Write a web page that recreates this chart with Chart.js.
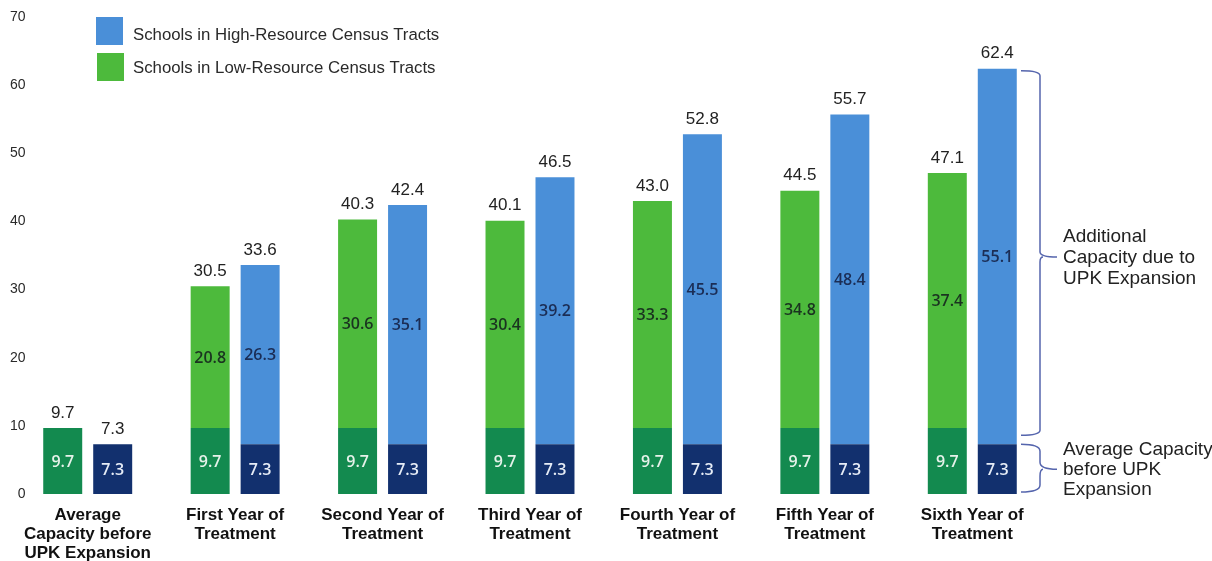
<!DOCTYPE html>
<html>
<head>
<meta charset="utf-8">
<script src="https://cdn.jsdelivr.net/npm/chart.js@4/dist/chart.umd.min.js"></script>
<style>
  html, body { margin: 0; padding: 0; background: #ffffff; }
  #wrap { width: 1212px; height: 561px; position: relative; }
</style>
</head>
<body>
<div id="wrap"><canvas id="c" width="1212" height="561"></canvas></div>
<script>
const categories = [
  ['Average', 'Capacity before', 'UPK Expansion'],
  ['First Year of', 'Treatment'],
  ['Second Year of', 'Treatment'],
  ['Third Year of', 'Treatment'],
  ['Fourth Year of', 'Treatment'],
  ['Fifth Year of', 'Treatment'],
  ['Sixth Year of', 'Treatment']
];
const lowBase  = [9.7, 9.7, 9.7, 9.7, 9.7, 9.7, 9.7];
const lowAdded = [null, 20.8, 30.6, 30.4, 33.3, 34.8, 37.4];
const highBase  = [7.3, 7.3, 7.3, 7.3, 7.3, 7.3, 7.3];
const highAdded = [null, 26.3, 35.1, 39.2, 45.5, 48.4, 55.1];
const yTicks = [0, 10, 20, 30, 40, 50, 60, 70];
const legendLabels = ['Schools in High-Resource Census Tracts', 'Schools in Low-Resource Census Tracts'];
const bracketTop = ['Additional', 'Capacity due to', 'UPK Expansion'];
const bracketBottom = ['Average Capacity', 'before UPK', 'Expansion'];

const C = {
  darkGreen: '#138a4f',
  lightGreen: '#4dba3c',
  navy: '#12306e',
  lightBlue: '#4a8fd8'
};

const totalsOf = (a, b) => a.map((v, i) => (v || 0) + (b[i] || 0));

const labelPlugin = {
  id: 'segLabels',
  afterDatasetsDraw(chart) {
    const ctx = chart.ctx;
    ctx.save();
    ctx.textAlign = 'center';
    ctx.textBaseline = 'middle';
    chart.data.datasets.forEach((ds, di) => {
      const meta = chart.getDatasetMeta(di);
      meta.data.forEach((bar, i) => {
        const v = ds.data[i];
        if (v === null || v === undefined) return;
        ctx.font = '600 16px "Open Sans"';
        ctx.fillStyle = ds.labelColor;
        ctx.fillText(v.toFixed(1), bar.x, (bar.y + bar.base) / 2 + 1);
      });
    });
    const groups = [
      { base: 0, top: 1, vals: totalsOf(lowBase, lowAdded) },
      { base: 2, top: 3, vals: totalsOf(highBase, highAdded) }
    ];
    ctx.font = '17px "Liberation Sans"';
    ctx.fillStyle = '#222222';
    groups.forEach(g => {
      const mb = chart.getDatasetMeta(g.base);
      const mt = chart.getDatasetMeta(g.top);
      g.vals.forEach((t, i) => {
        const topEl = (chart.data.datasets[g.top].data[i] != null) ? mt.data[i] : mb.data[i];
        ctx.fillText(t.toFixed(1), topEl.x, topEl.y - 15);
      });
    });
    ctx.restore();
  }
};

const annoPlugin = {
  id: 'anno',
  afterDraw(chart) {
    const ctx = chart.ctx;
    const y = chart.scales.y;
    ctx.save();
    // legend
    ctx.fillStyle = C.lightBlue;
    ctx.fillRect(96, 17, 27, 28);
    ctx.fillStyle = C.lightGreen;
    ctx.fillRect(97, 53, 27, 28);
    ctx.fillStyle = '#2a2a2a';
    ctx.font = '16.8px "Liberation Sans"';
    ctx.textAlign = 'left';
    ctx.textBaseline = 'middle';
    ctx.fillText(legendLabels[0], 133, 35);
    ctx.fillText(legendLabels[1], 133, 68);

    // brackets
    const last = highBase.length - 1;
    const total = highBase[last] + highAdded[last];
    const drawBrace = (top, bottom, mid, r) => {
      const x0 = 1021, x1 = 1040, x2 = 1057;
      ctx.beginPath();
      ctx.moveTo(x0, top);
      ctx.quadraticCurveTo(x1, top, x1, top + r);
      ctx.lineTo(x1, mid - r);
      ctx.quadraticCurveTo(x1, mid, x2, mid);
      ctx.moveTo(x1 + 3, mid);
      ctx.quadraticCurveTo(x1, mid, x1, mid + r);
      ctx.lineTo(x1, bottom - r);
      ctx.quadraticCurveTo(x1, bottom, x0, bottom);
      ctx.stroke();
    };
    ctx.strokeStyle = '#5565ad';
    ctx.lineWidth = 1.5;
    const t1 = y.getPixelForValue(total) + 2, b1 = y.getPixelForValue(highBase[last]) - 9;
    const m1 = (t1 + b1) / 2 + 4;
    drawBrace(t1, b1, m1, 5);
    const t2 = y.getPixelForValue(highBase[last]), b2 = y.getPixelForValue(0) - 2;
    const m2 = (t2 + b2) / 2 + 1;
    drawBrace(t2, b2, m2, 7);
    ctx.fillStyle = '#222222';
    ctx.font = '19px "Liberation Sans"';
    bracketTop.forEach((t, i) => ctx.fillText(t, 1063, m1 - 20 + i * 21));
    bracketBottom.forEach((t, i) => ctx.fillText(t, 1063, m2 - 19 + i * 20));
    ctx.restore();
  }
};

new Chart(document.getElementById('c'), {
  type: 'bar',
  data: {
    labels: categories,
    datasets: [
      { label: 'Low base', data: lowBase, backgroundColor: C.darkGreen, stack: 'low', labelColor: '#e6f2ea' },
      { label: 'Low added', data: lowAdded, backgroundColor: C.lightGreen, stack: 'low', labelColor: '#1a3320' },
      { label: 'High base', data: highBase, backgroundColor: C.navy, stack: 'high', labelColor: '#e6ecf6' },
      { label: 'High added', data: highAdded, backgroundColor: C.lightBlue, stack: 'high', labelColor: '#1b2d55' }
    ]
  },
  options: {
    responsive: false,
    animation: false,
    devicePixelRatio: 1,
    layout: { padding: { top: 17, right: 166, bottom: 0, left: 0 } },
    datasets: { bar: { categoryPercentage: 0.678, barPercentage: 0.78 } },
    plugins: {
      legend: { display: false },
      tooltip: { enabled: false }
    },
    scales: {
      x: {
        stacked: true,
        afterFit(scale) { scale.height = 67; },
        grid: { display: false, drawTicks: false },
        border: { display: false },
        ticks: {
          color: '#111111',
          padding: 12,
          maxRotation: 0,
          autoSkip: false,
          font: { family: '"Liberation Sans"', size: 17, weight: 'bold', lineHeight: 1.12 }
        }
      },
      y: {
        stacked: true,
        min: 0,
        max: 70,
        afterBuildTicks(scale) { scale.ticks = yTicks.map(v => ({ value: v })); },
        afterFit(scale) { scale.width = 14; },
        grid: { display: false, drawTicks: false },
        border: { display: false },
        ticks: {
          mirror: true,
          crossAlign: 'far',
          color: '#2a2a2a',
          padding: -4,
          font: { family: '"Liberation Sans"', size: 14 }
        }
      }
    }
  },
  plugins: [labelPlugin, annoPlugin]
});
</script>
</body>
</html>
